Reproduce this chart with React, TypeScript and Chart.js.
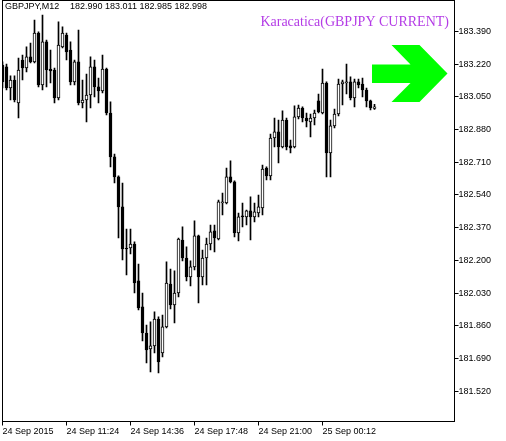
import { useEffect, useRef } from 'react';
import { Chart, registerables } from 'chart.js';

Chart.register(...registerables);

// GBPJPY M12 candles, 24 Sep 2015 08:12 onwards
const opens = [
  183.216, 183.206, 183.096, 183.138, 183.018, 183.242, 183.200, 183.258, 183.232, 183.382,
  183.112, 183.336, 183.195, 183.190, 183.044, 183.310, 183.372, 183.294, 183.128, 183.232,
  183.018, 183.034, 183.060, 183.206, 183.102, 183.081, 183.195, 182.966, 182.738, 182.634,
  182.478, 182.262, 182.264, 182.285, 182.093, 181.958, 181.822, 181.739, 181.755, 181.895,
  181.718, 181.854, 182.077, 181.968, 182.030, 182.306, 182.212, 182.114, 182.166, 182.327,
  182.114, 182.212, 182.285, 182.353, 182.311, 182.498, 182.498, 182.634, 182.608, 182.342,
  182.431, 182.426, 182.457, 182.426, 182.446, 182.472, 182.680, 182.639, 182.836, 182.868,
  182.790, 182.930, 182.795, 182.790, 182.946, 182.992, 182.940, 182.920, 182.940, 183.029,
  182.966, 183.122, 182.758, 182.899, 182.961, 183.117, 183.122, 183.128, 183.044, 183.128,
  183.117, 183.086, 183.029, 182.990,
];
const highs = [
  183.232, 183.221, 183.159, 183.159, 183.252, 183.268, 183.310, 183.330, 183.450, 183.388,
  183.476, 183.346, 183.294, 183.200, 183.440, 183.414, 183.382, 183.336, 183.242, 183.398,
  183.138, 183.169, 183.258, 183.242, 183.148, 183.268, 183.200, 183.024, 182.753, 182.640,
  182.602, 182.363, 182.363, 182.296, 182.181, 182.030, 181.864, 181.880, 181.932, 181.906,
  181.916, 182.192, 182.155, 182.145, 182.316, 182.374, 182.270, 182.197, 182.405, 182.332,
  182.254, 182.316, 182.384, 182.384, 182.514, 182.550, 182.680, 182.717, 182.613, 182.446,
  182.498, 182.462, 182.530, 182.498, 182.540, 182.696, 182.686, 182.857, 182.940, 182.930,
  182.977, 182.940, 182.826, 183.003, 183.008, 182.998, 182.966, 182.961, 182.982, 183.065,
  183.195, 183.128, 182.930, 182.987, 183.143, 183.138, 183.221, 183.154, 183.143, 183.143,
  183.148, 183.096, 183.034, 183.011,
];
const lows = [
  183.096, 183.086, 183.034, 183.024, 182.940, 183.138, 183.180, 183.226, 183.226, 183.102,
  183.086, 183.102, 183.122, 183.018, 183.034, 183.305, 183.242, 183.112, 183.112, 183.008,
  182.992, 182.920, 182.992, 183.050, 183.018, 183.070, 182.956, 182.686, 182.602, 182.316,
  182.202, 182.124, 182.233, 182.030, 181.942, 181.781, 181.666, 181.620, 181.718, 181.614,
  181.698, 181.848, 181.947, 181.874, 182.010, 182.197, 182.093, 182.067, 182.150, 181.978,
  182.072, 182.072, 182.254, 182.244, 182.306, 182.436, 182.493, 182.602, 182.322, 182.301,
  182.374, 182.384, 182.306, 182.400, 182.426, 182.436, 182.618, 182.618, 182.790, 182.706,
  182.784, 182.774, 182.758, 182.784, 182.935, 182.920, 182.894, 182.842, 182.904, 182.966,
  182.961, 182.634, 182.634, 182.888, 182.951, 183.008, 183.065, 183.034, 182.998, 183.096,
  183.050, 182.998, 182.982, 182.985,
];
const closes = [
  183.128, 183.096, 183.138, 183.034, 183.190, 183.200, 183.258, 183.232, 183.382, 183.112,
  183.336, 183.190, 183.185, 183.044, 183.320, 183.382, 183.284, 183.128, 183.232, 183.018,
  183.034, 183.060, 183.206, 183.102, 183.081, 183.195, 182.966, 182.738, 182.634, 182.478,
  182.259, 182.259, 182.285, 182.082, 181.952, 181.822, 181.734, 181.755, 181.895, 181.672,
  181.854, 182.082, 181.968, 182.030, 182.311, 182.212, 182.114, 182.166, 182.327, 182.114,
  182.212, 182.285, 182.348, 182.316, 182.504, 182.504, 182.634, 182.608, 182.342, 182.426,
  182.426, 182.457, 182.426, 182.452, 182.478, 182.675, 182.639, 182.836, 182.868, 182.790,
  182.930, 182.790, 182.784, 182.946, 182.992, 182.940, 182.925, 182.940, 182.966, 182.972,
  183.122, 182.758, 182.899, 182.961, 183.117, 183.128, 183.128, 183.044, 183.128, 183.112,
  183.086, 183.029, 182.992, 182.998,
];

// time axis: one slot per 12-minute bar
const timeTicks = [0, 16, 32, 48, 64, 80];
const timeLabels = ['24 Sep 2015', '24 Sep 11:24', '24 Sep 14:36', '24 Sep 17:48', '24 Sep 21:00', '25 Sep 00:12'];
const priceTicks = [181.52, 181.69, 181.86, 182.03, 182.2, 182.37, 182.54, 182.71, 182.88, 183.05, 183.22, 183.39];

const symbol = 'GBPJPY,M12';
const indicatorName = 'Karacatica(GBPJPY CURRENT)';

const axisFont = { family: '"Liberation Sans", Arial, sans-serif', size: 9 };

const last = closes.length - 1;

const decorPlugin = {
  id: 'decor',
  afterDatasetsDraw(chart: any) {
    const { ctx, chartArea } = chart;
    const { left, top, right, bottom } = chartArea;
    ctx.save();

    // frame
    ctx.strokeStyle = '#000';
    ctx.lineWidth = 1;
    ctx.strokeRect(left, top, right - left, bottom - top);

    // symbol + last bar OHLC
    ctx.fillStyle = '#000';
    ctx.font = '9px "Liberation Sans", Arial, sans-serif';
    ctx.textAlign = 'left';
    ctx.textBaseline = 'alphabetic';
    const ohlc = [opens[last], highs[last], lows[last], closes[last]].map((v) => v.toFixed(3));
    ctx.fillText(symbol, left + 2.5, top + 8.5);
    ctx.fillText(ohlc.join(' '), left + 67.5, top + 8.5);

    // indicator label
    ctx.fillStyle = 'rgb(180,60,230)';
    ctx.font = '14px "Liberation Serif", "Times New Roman", serif';
    ctx.textAlign = 'right';
    ctx.fillText(indicatorName, right - 5.5, top + 25);

    // green direction arrow
    const tipX = right - 7;
    const cy = top + 73;
    ctx.fillStyle = '#00ff00';
    ctx.beginPath();
    ctx.moveTo(tipX - 75.5, cy - 9);
    ctx.lineTo(tipX - 37, cy - 9);
    ctx.lineTo(tipX - 56, cy - 28.5);
    ctx.lineTo(tipX - 28, cy - 28.5);
    ctx.lineTo(tipX, cy);
    ctx.lineTo(tipX - 28, cy + 28.5);
    ctx.lineTo(tipX - 56, cy + 28.5);
    ctx.lineTo(tipX - 37, cy + 9.5);
    ctx.lineTo(tipX - 75.5, cy + 9.5);
    ctx.closePath();
    ctx.fill();

    ctx.restore();
  },
};

export default function App() {
  const canvasRef = useRef<HTMLCanvasElement>(null);

  useEffect(() => {
    document.body.style.margin = '0';
    document.body.style.background = '#fff';
    const ctx = canvasRef.current?.getContext('2d');
    if (!ctx) return;

    const bodies = opens.map((o, i) => ({ x: i, y: [o, closes[i]] }));
    const wicks = lows.map((l, i) => ({ x: i, y: [l, highs[i]] }));
    const bodyColors = opens.map((o, i) => (closes[i] >= o ? '#ffffff' : '#000000'));

    const chart = new Chart(ctx, {
      type: 'bar',
      data: {
        datasets: [
          {
            label: 'body',
            data: bodies as any,
            backgroundColor: bodyColors,
            borderColor: '#000',
            borderWidth: 1,
            borderSkipped: false,
            barThickness: 3,
            grouped: false,
            order: 0,
          },
          {
            label: 'wick',
            data: wicks as any,
            backgroundColor: '#000',
            borderWidth: 0,
            barThickness: 1,
            grouped: false,
            order: 1,
          },
        ],
      },
      options: {
        animation: false,
        responsive: true,
        maintainAspectRatio: false,
        events: [],
        layout: { padding: { left: 2.5, top: 0.5, right: 0, bottom: 0 } },
        plugins: {
          legend: { display: false },
          tooltip: { enabled: false },
        },
        scales: {
          x: {
            type: 'linear',
            min: 0,
            max: 113,
            offset: false,
            afterBuildTicks: (scale: any) => {
              scale.ticks = timeTicks.map((v) => ({ value: v }));
            },
            afterFit: (scale: any) => {
              scale.height = 19.5;
              scale.paddingLeft = 0;
              scale.paddingRight = 0;
            },
            ticks: {
              autoSkip: false,
              maxRotation: 0,
              align: 'start',
              padding: 1,
              color: '#000',
              font: axisFont,
              callback: (v: any) => timeLabels[timeTicks.indexOf(Number(v))] ?? '',
            },
            grid: { drawOnChartArea: false, offset: false, tickLength: 4, color: '#000' },
            border: { display: false },
          },
          y: {
            position: 'right',
            min: 181.362,
            max: 183.5512,
            afterBuildTicks: (scale: any) => {
              scale.ticks = priceTicks.map((v) => ({ value: v }));
            },
            afterFit: (scale: any) => {
              scale.width = 51.5;
              scale.paddingTop = 0;
              scale.paddingBottom = 0;
            },
            ticks: {
              padding: 0,
              color: '#000',
              font: axisFont,
              callback: (v: any) => Number(v).toFixed(3),
            },
            grid: { drawOnChartArea: false, tickLength: 4, color: '#000' },
            border: { display: false },
          },
        },
      } as any,
      plugins: [decorPlugin],
    });

    return () => {
      chart.destroy();
    };
  }, []);

  return (
    <div style={{ width: 506, height: 441, position: 'relative' }}>
      <canvas ref={canvasRef} />
    </div>
  );
}
